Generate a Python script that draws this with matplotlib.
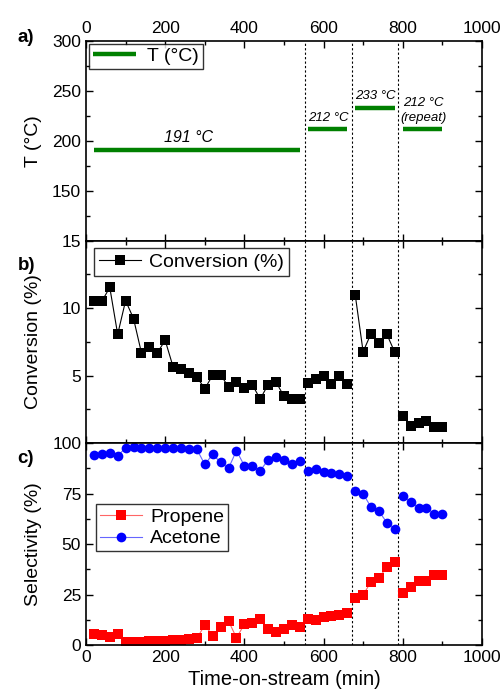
import numpy as np
import matplotlib
matplotlib.use('Agg')
import matplotlib.pyplot as plt
from matplotlib.ticker import MultipleLocator

plt.rcParams['font.family'] = ['Liberation Sans', 'DejaVu Sans']

# time-on-stream (min), one array per temperature step
t1 = [20, 40, 60, 80, 100, 120, 140, 160, 180, 200, 220, 240, 260, 280,
      300, 320, 340, 360, 380, 400, 420, 440, 460, 480, 500, 520, 540]
t2 = [560, 580, 600, 620, 640, 660]
t3 = [680, 700, 720, 740, 760, 780]
t4 = [800, 820, 840, 860, 880, 900]

# temperature steps: (start, end, T)
temp_start = [20, 560, 680, 800]
temp_end = [540, 660, 780, 900]
temp_val = [191, 212, 233, 212]
temp_labels = ['191 °C', '212 °C', '233 °C', '212 °C\n(repeat)']

conv1 = [10.55, 10.5, 11.54, 8.06, 10.55, 9.23, 6.69, 7.14, 6.69, 7.61, 5.65, 5.5, 5.2, 4.9,
         4.03, 5.02, 5.07, 4.15, 4.53, 4.08, 4.33, 3.26, 4.33, 4.53, 3.46, 3.26, 3.26]
conv2 = [4.45, 4.78, 5.0, 4.4, 5.0, 4.38]
conv3 = [11.0, 6.77, 8.11, 7.39, 8.06, 6.72]
conv4 = [2.01, 1.27, 1.47, 1.64, 1.21, 1.21]

prop1 = [5.3, 4.95, 4.1, 5.3, 1.3, 1.3, 1.5, 1.8, 2.0, 2.1, 2.4, 2.7, 3.0, 3.3,
         9.9, 4.6, 8.8, 11.9, 3.6, 10.2, 10.7, 12.7, 7.8, 6.5, 7.9, 9.9, 8.8]
prop2 = [12.9, 12.4, 13.7, 14.4, 14.9, 15.7]
prop3 = [23.4, 24.8, 31.3, 33.0, 38.8, 41.2]
prop4 = [25.6, 28.6, 31.7, 31.7, 34.7, 34.7]

acet1 = [94.1, 94.6, 94.9, 93.6, 97.7, 97.8, 97.7, 97.7, 97.7, 97.7, 97.4, 97.4, 96.9, 96.9,
         89.4, 94.4, 90.4, 87.5, 96.2, 88.8, 88.8, 86.3, 91.6, 92.9, 91.6, 89.6, 91.2]
acet2 = [86.3, 87.1, 85.8, 85.0, 84.5, 83.7]
acet3 = [76.2, 74.8, 68.3, 66.2, 60.6, 57.6]
acet4 = [73.8, 70.9, 68.0, 68.0, 64.9, 64.9]

switch_times = [553, 672, 788]

times = [t1, t2, t3, t4]
conv = [conv1, conv2, conv3, conv4]
prop = [prop1, prop2, prop3, prop4]
acet = [acet1, acet2, acet3, acet4]

fig = plt.figure(figsize=(5.03, 6.98), dpi=100)
# three stacked panels touching each other
axa = fig.add_axes([0.171, 0.6552, 0.787, 0.2865])
axb = fig.add_axes([0.171, 0.3653, 0.787, 0.2899])
axc = fig.add_axes([0.171, 0.0759, 0.787, 0.2894])

# a) temperature
for i in range(len(temp_val)):
    lbl = 'T (°C)' if i == 0 else None
    axa.plot([temp_start[i], temp_end[i]], [temp_val[i], temp_val[i]],
             color='green', lw=3.2, solid_capstyle='butt', label=lbl)
axa.text(258, 196, temp_labels[0], ha='center', va='bottom', style='italic', fontsize=11.5)
axa.text(612, 217, temp_labels[1], ha='center', va='bottom', style='italic', fontsize=9.5)
axa.text(731, 239, temp_labels[2], ha='center', va='bottom', style='italic', fontsize=9.5)
axa.text(853, 217, temp_labels[3], ha='center', va='bottom', style='italic', fontsize=9.5,
         linespacing=1.25)
axa.set_ylim(100, 300)
axa.set_yticks([150, 200, 250, 300])
axa.yaxis.set_minor_locator(MultipleLocator(25))
axa.set_ylabel('T (°C)', fontsize=14)
axa.legend(loc='upper left', fontsize=14, frameon=True, fancybox=False, edgecolor='black',
           handlelength=2.2, borderpad=0.2, borderaxespad=0.15, handletextpad=0.6)
axa.xaxis.tick_top()
axa.tick_params(axis='x', which='both', labeltop=True, labelbottom=False, bottom=True, top=True)

# b) conversion
for i in range(4):
    lbl = 'Conversion (%)' if i == 0 else None
    axb.plot(times[i], conv[i], color='black', lw=0.8, marker='s', ms=6.5,
             markeredgewidth=0, label=lbl)
axb.set_ylim(0, 15)
axb.set_yticks([5, 10, 15])
axb.yaxis.set_minor_locator(MultipleLocator(2.5))
axb.set_ylabel('Conversion (%)', fontsize=14)
axb.legend(loc='upper left', fontsize=14, frameon=True, fancybox=False, edgecolor='black',
           handlelength=2.2, borderpad=0.25, borderaxespad=0.4, handletextpad=0.4)
axb.tick_params(axis='x', which='both', labelbottom=False)

# c) selectivity
for i in range(4):
    lp = 'Propene' if i == 0 else None
    la = 'Acetone' if i == 0 else None
    axc.plot(times[i], prop[i], color='#ff6666', lw=0.8, marker='s', ms=6.5,
             markerfacecolor='red', markeredgewidth=0, label=lp)
    axc.plot(times[i], acet[i], color='#6666ff', lw=0.8, marker='o', ms=7,
             markerfacecolor='blue', markeredgewidth=0, label=la)
axc.set_ylim(0, 100)
axc.set_yticks([0, 25, 50, 75, 100])
axc.yaxis.set_minor_locator(MultipleLocator(12.5))
axc.set_ylabel('Selectivity (%)', fontsize=14)
axc.set_xlabel('Time-on-stream (min)', fontsize=14.5)
axc.legend(loc='center left', bbox_to_anchor=(0.0, 0.58), fontsize=14, frameon=True,
           fancybox=False, edgecolor='black', handlelength=2.2, borderpad=0.2,
           handletextpad=0.4, labelspacing=0.2)

for ax in (axa, axb, axc):
    ax.set_xlim(0, 1000)
    ax.set_xticks([0, 200, 400, 600, 800, 1000])
    ax.xaxis.set_minor_locator(MultipleLocator(100))
    ax.tick_params(which='both', direction='in', top=True, right=True, labelsize=12.5)
    ax.tick_params(which='major', length=5, width=1)
    ax.tick_params(which='minor', length=3, width=1)
    for s in ax.spines.values():
        s.set_linewidth(1.2)
    for xs in switch_times:
        ax.axvline(xs, color='black', ls=(0, (2, 2)), lw=0.8, zorder=0)
    ax.yaxis.set_label_coords(-0.11, 0.5)

fig.text(0.035, 0.94, 'a)', fontsize=13.5, fontweight='bold')
fig.text(0.035, 0.613, 'b)', fontsize=13.5, fontweight='bold')
fig.text(0.035, 0.337, 'c)', fontsize=13.5, fontweight='bold')

fig.savefig('out.png', dpi=100)
